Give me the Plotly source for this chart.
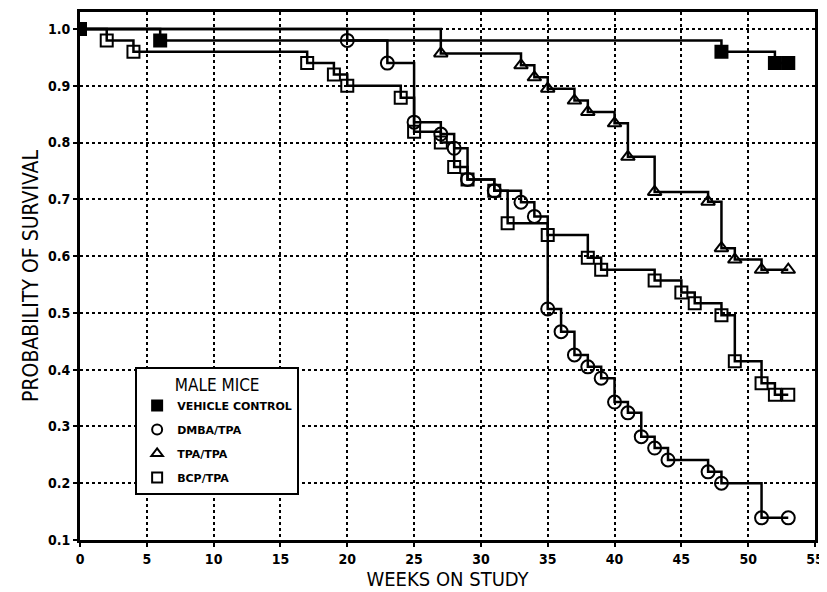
import plotly.graph_objects as go

# ---- data ----
x_ticks = [0, 5, 10, 15, 20, 25, 30, 35, 40, 45, 50, 55]
y_ticks = [0.1, 0.2, 0.3, 0.4, 0.5, 0.6, 0.7, 0.8, 0.9, 1.0]
y_tick_labels = ["0.1", "0.2", "0.3", "0.4", "0.5", "0.6", "0.7", "0.8", "0.9", "1.0"]

vc_weeks = [0, 6, 48, 52, 53]
vc_surv = [1.0, 0.98, 0.96, 0.94, 0.94]

dmba_weeks = [20, 23, 25, 27, 28, 29, 31, 33, 34, 35, 36, 37, 38, 39, 40, 41,
              42, 43, 44, 47, 48, 51, 53]
dmba_surv = [0.98, 0.94, 0.836, 0.815, 0.79, 0.735, 0.715, 0.695, 0.67, 0.507,
             0.467, 0.426, 0.405, 0.385, 0.343, 0.324, 0.282, 0.262, 0.241,
             0.22, 0.20, 0.139, 0.139]

tpa_weeks = [27, 33, 34, 35, 37, 38, 40, 41, 43, 47, 48, 49, 51, 53]
tpa_surv = [0.957, 0.936, 0.915, 0.895, 0.874, 0.854, 0.834, 0.775, 0.713,
            0.696, 0.614, 0.594, 0.576, 0.576]

bcp_weeks = [2, 4, 17, 19, 20, 24, 25, 27, 28, 29, 31, 32, 35, 38, 39, 43, 45,
             46, 48, 49, 51, 52, 53]
bcp_surv = [0.98, 0.96, 0.94, 0.92, 0.90, 0.879, 0.819, 0.80, 0.757, 0.735,
            0.715, 0.658, 0.637, 0.597, 0.576, 0.557, 0.536, 0.517, 0.496,
            0.415, 0.376, 0.356, 0.356]

start_week = 0
start_surv = 1.0

series = [
    ("VEHICLE CONTROL", vc_weeks, vc_surv, "square", 12, True),
    ("DMBA/TPA", dmba_weeks, dmba_surv, "circle-open", 13, False),
    ("TPA/TPA", tpa_weeks, tpa_surv, "triangle-up-open", 12, False),
    ("BCP/TPA", bcp_weeks, bcp_surv, "square-open", 12, False),
]

FONT = "DejaVu Sans Condensed, Liberation Sans Narrow, Liberation Sans, sans-serif"
LFONT = "DejaVu Sans, Liberation Sans, sans-serif"
BLACK = "#000000"

fig = go.Figure()

for name, wk, sv, sym, size, has_start in series:
    if has_start:
        lx, ly = wk, sv
    else:
        lx, ly = [start_week] + wk, [start_surv] + sv
    fig.add_trace(go.Scatter(
        x=lx, y=ly, mode="lines", line=dict(color=BLACK, width=2.5, shape="hv"),
        showlegend=False, hoverinfo="skip"))
    fig.add_trace(go.Scatter(
        x=wk, y=sv, mode="markers",
        marker=dict(symbol=sym, size=size, color=BLACK,
                    line=dict(color=BLACK, width=2)),
        showlegend=False, name=name))

# legend-only traces
for i, (name, wk, sv, sym, size, has_start) in enumerate(series):
    fig.add_trace(go.Scatter(
        x=[None], y=[None], mode="markers", name=name,
        legendgroup=f"g{i}",
        marker=dict(symbol=sym, size=10, color=BLACK,
                    line=dict(color=BLACK, width=2))))

# page body adds an 8px offset, so the figure is 8px smaller than the window
fig.update_layout(
    width=819, height=584,
    margin=dict(l=72, r=12, t=4, b=52, autoexpand=False),
    paper_bgcolor="white", plot_bgcolor="white",
    font=dict(family=FONT, color=BLACK),
    showlegend=True,
    legend=dict(
        x=0.075, y=0.328, xanchor="left", yanchor="top",
        bgcolor="white", bordercolor=BLACK, borderwidth=2,
        font=dict(size=11, family=LFONT, color=BLACK, weight="bold"),
        title=dict(text="MALE MICE", side="top center",
                   font=dict(size=17, family=FONT, color=BLACK, weight="normal")),
        traceorder="grouped", tracegroupgap=5,
        itemclick=False, itemdoubleclick=False,
    ),
)

fig.update_xaxes(
    range=[0, 55], tickvals=x_ticks, ticktext=[str(v) for v in x_ticks],
    tickfont=dict(size=14, family=FONT, weight="bold"),
    showgrid=True, gridcolor=BLACK, gridwidth=1.8, griddash="dot",
    showline=True, linecolor=BLACK, linewidth=3, mirror=True,
    ticks="outside", ticklen=4, tickwidth=2, tickcolor=BLACK,
    zeroline=False, automargin=False,
    title=dict(text="WEEKS ON STUDY", font=dict(size=20, family=FONT), standoff=2),
)
fig.update_yaxes(
    range=[0.1, 1.03], tickvals=y_ticks, ticktext=y_tick_labels,
    tickfont=dict(size=14, family=FONT, weight="bold"),
    showgrid=True, gridcolor=BLACK, gridwidth=1.8, griddash="dot",
    showline=True, linecolor=BLACK, linewidth=3, mirror=True,
    ticks="outside", ticklen=4, tickwidth=2, tickcolor=BLACK,
    zeroline=False, automargin=False,
    title=dict(text="PROBABILITY OF SURVIVAL", font=dict(size=21, family=FONT), standoff=4),
)

fig.write_html("out.html")
